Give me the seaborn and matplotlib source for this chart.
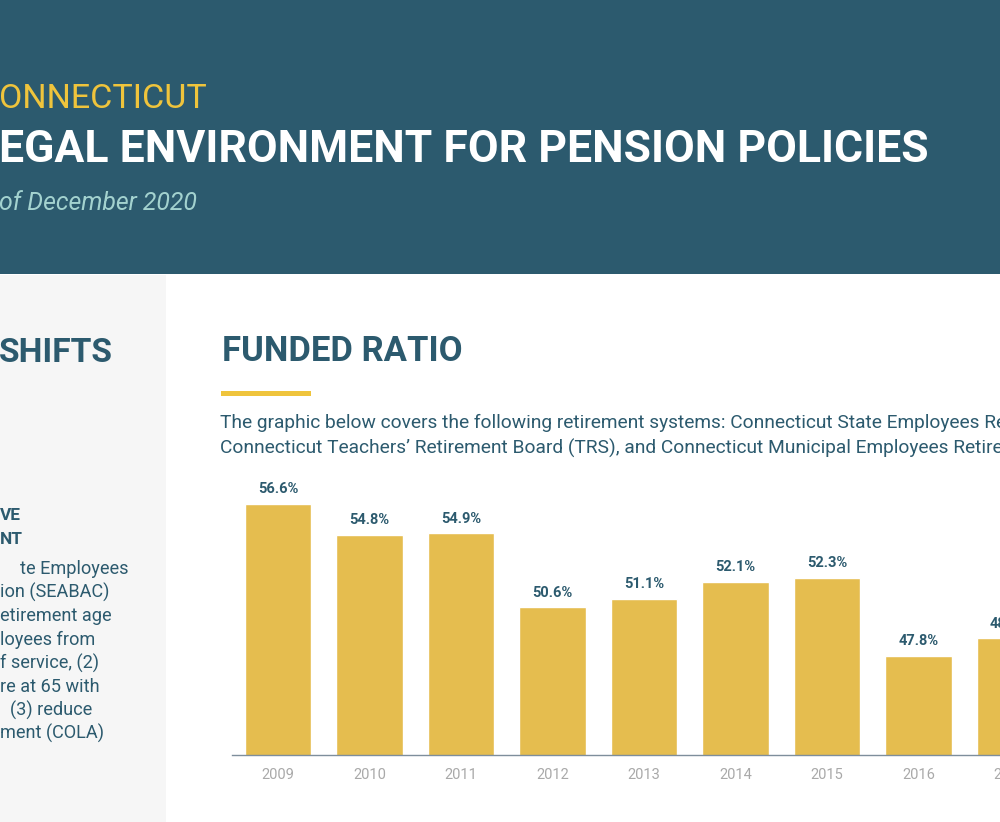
import matplotlib
matplotlib.use("Agg")
import matplotlib.pyplot as plt
import seaborn as sns
import pandas as pd
from matplotlib.patches import Rectangle

# ---------------- data ----------------
years = ["2009", "2010", "2011", "2012", "2013", "2014", "2015", "2016", "2017"]
funded_ratio = [56.6, 54.8, 54.9, 50.6, 51.1, 52.1, 52.3, 47.8, 48.8]
value_labels = [f"{v:.1f}%" for v in funded_ratio]

state_line = "ONNECTICUT"
title_line = "EGAL ENVIRONMENT FOR PENSION POLICIES"
date_line = "of December 2020"
left_heading = "SHIFTS"
left_subheading = ["VE", "NT"]
left_body = ["te Employees", "ion (SEABAC)", "etirement age", "loyees from",
             "f service, (2)", "re at 65 with", "(3) reduce", "ment (COLA)"]
chart_title = "FUNDED RATIO"
intro_lines = [
    "The graphic below covers the following retirement systems: Connecticut State Employees Retirement System (SERS),",
    "Connecticut Teachers\u2019 Retirement Board (TRS), and Connecticut Municipal Employees Retirement System (CMERS).",
]

# ---------------- style ----------------
NAVY = "#2c5a6e"
BAR = "#e5bd4f"
YELLOW = "#efc43c"
PANEL = "#f6f6f6"
DATE_C = "#a3d2cf"
TICK_C = "#a9a9a9"

W, H = 1000, 822
sns.set_theme(style="white")
plt.rcParams["font.family"] = ["Roboto", "DejaVu Sans"]

fig = plt.figure(figsize=(W / 100, H / 100), dpi=100)
fig.patch.set_facecolor("white")
renderer = fig.canvas.get_renderer()


def fx(x):
    return x / W


def fy(y):
    return 1 - y / H


def fit_size(text, size, width, **kw):
    t = fig.text(0, 0, text, fontsize=size, **kw)
    bb = t.get_window_extent(renderer)
    t.remove()
    return size * width / bb.width


def put(text, x, y, size, **kw):
    return fig.text(fx(x), fy(y), text, fontsize=size, va="baseline", ha="left", **kw)


# background blocks
fig.add_artist(Rectangle((0, fy(274)), 1, 274 / H, transform=fig.transFigure,
                         facecolor=NAVY, edgecolor="none", zorder=0))
fig.add_artist(Rectangle((0, 0), fx(166), fy(275), transform=fig.transFigure,
                         facecolor=PANEL, edgecolor="none", zorder=0))
# yellow underline
fig.add_artist(Rectangle((fx(220.5), fy(396.5)), 90 / W, 5.5 / H, transform=fig.transFigure,
                         facecolor=YELLOW, edgecolor="none", zorder=1))

# header texts
s = fit_size(state_line, 24, 208)
put(state_line, -1, 107.7, s, color=YELLOW)
s = fit_size(title_line, 30, 926, fontweight="bold")
put(title_line, -1, 161.7, s, color="white", fontweight="bold")
s = fit_size(date_line, 18, 198, fontstyle="italic")
put(date_line, -1, 210, s, color=DATE_C, fontstyle="italic")

# left panel
s = fit_size(left_heading, 26, 114, fontweight="bold")
put(left_heading, -1, 361.7, s, color=NAVY, fontweight="bold")
s_sub = fit_size(left_subheading[0], 12, 21, fontweight="bold")
for txt, b in zip(left_subheading, [520, 544]):
    put(txt, -0.5, b, s_sub, color=NAVY, fontweight="bold")
s_body = fit_size(left_body[1], 12, 109)
body_x = [20, 0, 0, 0, 0, 0, 10, 0]
for i, (txt, xx) in enumerate(zip(left_body, body_x)):
    put(txt, xx - 0.5, 574 + i * 23.6, s_body, color=NAVY)

# chart heading and intro
s = fit_size(chart_title, 26, 240, fontweight="bold")
put(chart_title, 221.5, 360.7, s, color=NAVY, fontweight="bold")
s_intro = fit_size("The graphic below covers the following retirement systems: Connecticut State Employees",
                   12.5, 978 - 220)
put(intro_lines[0], 220, 429, s_intro, color=NAVY)
put(intro_lines[1], 220, 454, s_intro, color=NAVY)

# ---------------- chart ----------------
df = pd.DataFrame({"year": years, "ratio": funded_ratio})
ax = fig.add_axes([fx(232.25), fy(755.3), 823.5 / W, 275.3 / H])
ax.set_facecolor("none")
sns.barplot(data=df, x="year", y="ratio", color=BAR, saturation=1, width=0.727, ax=ax)
ax.set_xlim(-0.5, 8.5)
ax.set_ylim(42, 58)
ax.bar_label(ax.containers[0], labels=value_labels, padding=5.5, fontsize=10.5,
             fontweight="bold", color=NAVY)
for sp in ["left", "right", "top"]:
    ax.spines[sp].set_visible(False)
ax.spines["bottom"].set_color("#7e8e9c")
ax.spines["bottom"].set_linewidth(1.0)
ax.set_yticks([])
ax.set_xlabel("")
ax.set_ylabel("")
ax.tick_params(axis="x", length=0, pad=9, labelsize=10.5, labelcolor=TICK_C)
ax.grid(False)

fig.savefig("out.png", dpi=100)
